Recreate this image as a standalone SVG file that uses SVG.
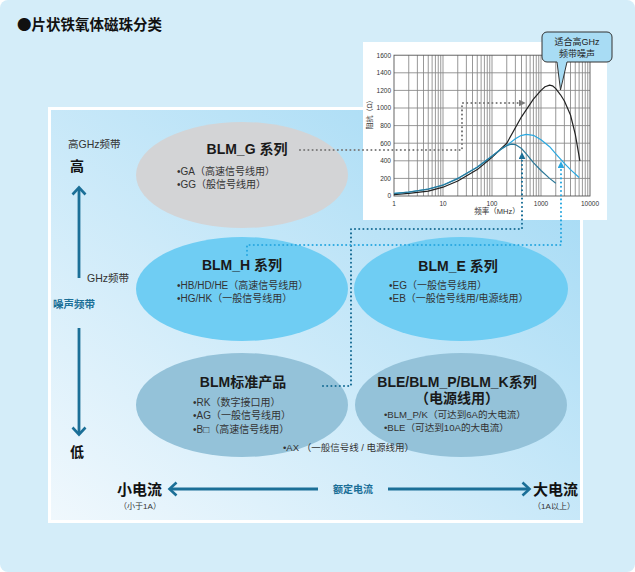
<svg xmlns="http://www.w3.org/2000/svg" width="635" height="572" viewBox="0 0 635 572">
<defs>
<linearGradient id="panelGrad" x1="0" y1="1" x2="1" y2="0">
<stop offset="0" stop-color="#f0f8fd"/>
<stop offset="1" stop-color="#9fd8f4"/>
</linearGradient>
<marker id="ahGray" viewBox="0 0 8 8" markerWidth="7" markerHeight="7" refX="1.5" refY="4" orient="auto" markerUnits="userSpaceOnUse"><path d="M0,0 L8,4 L0,8 z" fill="#7a7a7a"/></marker>
<marker id="ahDark" viewBox="0 0 8 8" markerWidth="7" markerHeight="7" refX="1.5" refY="4" orient="auto" markerUnits="userSpaceOnUse"><path d="M0,0 L8,4 L0,8 z" fill="#1b6f97"/></marker>
<marker id="ahLight" viewBox="0 0 8 8" markerWidth="7" markerHeight="7" refX="1.5" refY="4" orient="auto" markerUnits="userSpaceOnUse"><path d="M0,0 L8,4 L0,8 z" fill="#2aa8e0"/></marker>
</defs>
<style>
text{font-family:"Liberation Sans","Noto Sans CJK SC",sans-serif;}
.ttl{font-size:14px;font-weight:bold;fill:#1a1a1a;}
.bul{font-size:10px;fill:#333;}
.ax{font-size:6.5px;fill:#333;}
.dot{fill:none;stroke-width:2.1;stroke-dasharray:0 4.2;stroke-linecap:round;}
.arr{fill:none;stroke:#1b6f97;stroke-width:2.8;}
.chev{fill:none;stroke:#1b6f97;stroke-width:2.6;stroke-linejoin:miter;}
.grid{fill:none;stroke:#858585;stroke-width:0.85;}
.crv{fill:none;stroke-width:1.2;stroke-linejoin:round;}
</style>

<rect x="0" y="0" width="635" height="572" rx="8" fill="#d4edf9"/>
<text x="17" y="30" style="font-family:'Noto Sans CJK SC','Liberation Sans',sans-serif;font-size:14.5px;font-weight:bold;fill:#111;">●片状铁氧体磁珠分类</text>

<rect x="49.5" y="108.5" width="532" height="413" fill="url(#panelGrad)" stroke="#ffffff" stroke-width="3"/>

<g id="axis-vertical">
<text x="68" y="148" style="font-size:10.5px;fill:#333;">高GHz频带</text>
<text x="70" y="171" style="font-size:14px;font-weight:bold;fill:#111;">高</text>
<line class="arr" x1="79" y1="278" x2="79" y2="188"/>
<polyline class="chev" points="72.5,194.5 79,187.5 85.5,194.5"/>
<text x="87" y="282" style="font-size:10.5px;fill:#333;">GHz频带</text>
<text x="53" y="308" style="font-size:10.5px;font-weight:bold;fill:#1b6f97;">噪声频带</text>
<line class="arr" x1="79" y1="328" x2="79" y2="434"/>
<polyline class="chev" points="72.5,427.5 79,434.5 85.5,427.5"/>
<text x="70" y="457" style="font-size:14px;font-weight:bold;fill:#111;">低</text>
</g>

<g id="axis-horizontal">
<text x="117" y="495" style="font-size:15px;font-weight:bold;fill:#111;">小电流</text>
<text x="140" y="509" text-anchor="middle" style="font-size:8px;fill:#333;">（小于1A）</text>
<line class="arr" x1="170" y1="489" x2="318" y2="489"/>
<polyline class="chev" points="176.5,482.5 169.5,489 176.5,495.5"/>
<text x="353" y="492.5" text-anchor="middle" style="font-size:10px;font-weight:bold;fill:#1b6f97;">额定电流</text>
<line class="arr" x1="388" y1="489" x2="528" y2="489"/>
<polyline class="chev" points="522.5,482.5 529.5,489 522.5,495.5"/>
<text x="533" y="495" style="font-size:15px;font-weight:bold;fill:#111;">大电流</text>
<text x="554" y="509" text-anchor="middle" style="font-size:8px;fill:#333;">（1A以上）</text>
</g>

<g id="node-blm-g">
<ellipse cx="242" cy="175" rx="106" ry="53" fill="#d3d4d6"/>
<text class="ttl" x="247" y="154" text-anchor="middle">BLM_G 系列</text>
<text class="bul" x="177" y="175">•GA（高速信号线用）</text>
<text class="bul" x="177" y="188">•GG（般信号线用）</text>
</g>

<g id="node-blm-h">
<ellipse cx="242" cy="289" rx="106" ry="52" fill="#6fcdf3"/>
<text class="ttl" x="242" y="270" text-anchor="middle">BLM_H 系列</text>
<text class="bul" x="177" y="289">•HB/HD/HE（高速信号线用）</text>
<text class="bul" x="177" y="302">•HG/HK（一般信号线用）</text>
</g>

<g id="node-blm-e">
<ellipse cx="461" cy="289" rx="107" ry="52" fill="#6fcdf3"/>
<text class="ttl" x="458" y="271" text-anchor="middle">BLM_E 系列</text>
<text class="bul" x="389" y="289">•EG（一般信号线用）</text>
<text class="bul" x="389" y="302">•EB（一般信号线用/电源线用）</text>
</g>

<g id="node-blm-std">
<ellipse cx="242" cy="405" rx="106" ry="52" fill="#94c2d9"/>
<text class="ttl" x="243" y="387" text-anchor="middle">BLM标准产品</text>
<text class="bul" x="193" y="406">•RK（数字接口用）</text>
<text class="bul" x="193" y="419">•AG（一般信号线用）</text>
<text class="bul" x="193" y="432.5">•B□（高速信号线用）</text>
</g>

<g id="node-ble">
<ellipse cx="461" cy="405" rx="106" ry="52" fill="#94c2d9"/>
<text class="ttl" x="457" y="387" text-anchor="middle">BLE/BLM_P/BLM_K系列</text>
<text class="ttl" x="457" y="403" text-anchor="middle">（电源线用）</text>
<text class="bul" x="384" y="418" style="font-size:9.6px;">•BLM_P/K（可达到6A的大电流）</text>
<text class="bul" x="384" y="431" style="font-size:9.6px;">•BLE（可达到10A的大电流）</text>
</g>

<g id="node-ax">
<text x="283" y="451" style="font-size:9.5px;fill:#333;">•AX （一般信号线 / 电源线用）</text>
</g>

<g id="chart">
<rect x="363" y="42" width="244" height="178" fill="#ffffff"/>
<path class="grid" d="M394,178.4H590M394,160.8H590M394,143.2H590M394,125.6H590M394,108H590M394,90.4H590M394,72.8H590
M408.75,55.2V196M417.38,55.2V196M423.5,55.2V196M428.25,55.2V196M432.12,55.2V196M435.4,55.2V196M438.25,55.2V196M440.75,55.2V196M443,55.2V196
M457.75,55.2V196M466.38,55.2V196M472.5,55.2V196M477.25,55.2V196M481.12,55.2V196M484.4,55.2V196M487.25,55.2V196M489.75,55.2V196M492,55.2V196
M506.75,55.2V196M515.38,55.2V196M521.5,55.2V196M526.25,55.2V196M530.12,55.2V196M533.4,55.2V196M536.25,55.2V196M538.75,55.2V196M541,55.2V196
M555.75,55.2V196M564.38,55.2V196M570.5,55.2V196M575.25,55.2V196M579.12,55.2V196M582.4,55.2V196M585.25,55.2V196M587.75,55.2V196"/>
<rect x="394" y="55.2" width="196" height="140.8" fill="none" stroke="#555" stroke-width="0.9"/>
<g class="ax" text-anchor="end">
<text x="391" y="198.3">0</text>
<text x="391" y="180.7">200</text>
<text x="391" y="163.1">400</text>
<text x="391" y="145.5">600</text>
<text x="391" y="127.9">800</text>
<text x="391" y="110.3">1000</text>
<text x="391" y="92.7">1200</text>
<text x="391" y="75.1">1400</text>
<text x="391" y="57.5">1600</text>
</g>
<g class="ax" text-anchor="middle">
<text x="394" y="205.5">1</text>
<text x="443" y="205.5">10</text>
<text x="492" y="205.5">100</text>
<text x="541" y="205.5">1000</text>
<text x="590" y="205.5">10000</text>
</g>
<text x="497" y="214" text-anchor="middle" style="font-size:7.5px;fill:#333;">频率（MHz）</text>
<text transform="translate(372,113) rotate(-90)" text-anchor="middle" style="font-size:7px;fill:#333;">阻抗（Ω）</text>
<polyline class="crv" stroke="#222" points="394,194.7 408.8,193.4 428.3,191.2 443,187.2 457.8,181 477.3,169.6 492,157.3 506.8,143.2 521.5,116.8 533.4,99.2 541,90.4 545,86.8 549.6,85.1 552.5,85.8 555.8,88.6 560.5,94.8 564.4,101 570.5,115 575.3,134.4 579.9,160.8"/>
<polyline class="crv" stroke="#2aa8e0" points="394,193.4 408.8,192 428.3,189 443,185 457.8,178.4 477.3,167 492,156 500.6,149.4 506.8,145.4 515.4,138.8 521,135.6 526.3,134.4 533.4,135.3 541,139.7 549.6,146.7 555.8,153.8 564.4,163.4 570.5,169.6 579.1,177.5"/>
<polyline class="crv" stroke="#2b7898" points="394,193.6 408.8,192.2 428.3,189.2 443,185.2 457.8,178.6 477.3,167.2 492,156.2 500.6,149.6 506.8,145.6 511.5,144.2 515.4,144.6 521.5,148.5 526.3,153.8 533.4,162.6 541,170.5 549.6,178.4 555.8,183.2"/>
<path d="M547,32 H607 A5,5 0 0 1 612,37 V57 A5,5 0 0 1 607,62 H567 L560.5,90 L557,62 H547 A5,5 0 0 1 542,57 V37 A5,5 0 0 1 547,32 z" fill="#a8dcf4" stroke="#333" stroke-width="1"/>
<text x="577" y="45" text-anchor="middle" style="font-size:9px;fill:#222;">适合高GHz</text>
<text x="577" y="57" text-anchor="middle" style="font-size:9px;fill:#222;">频带噪声</text>
</g>

<g id="connectors">
<path class="dot" stroke="#7a7a7a" d="M300,150 H462 V103 H520" marker-end="url(#ahGray)"/>
<path class="dot" stroke="#1b6f97" d="M323,386 H351 V229 H522 V158" marker-end="url(#ahDark)"/>
<path class="dot" stroke="#2aa8e0" d="M247,255 V245 H561 V167" marker-end="url(#ahLight)"/>
</g>
</svg>
